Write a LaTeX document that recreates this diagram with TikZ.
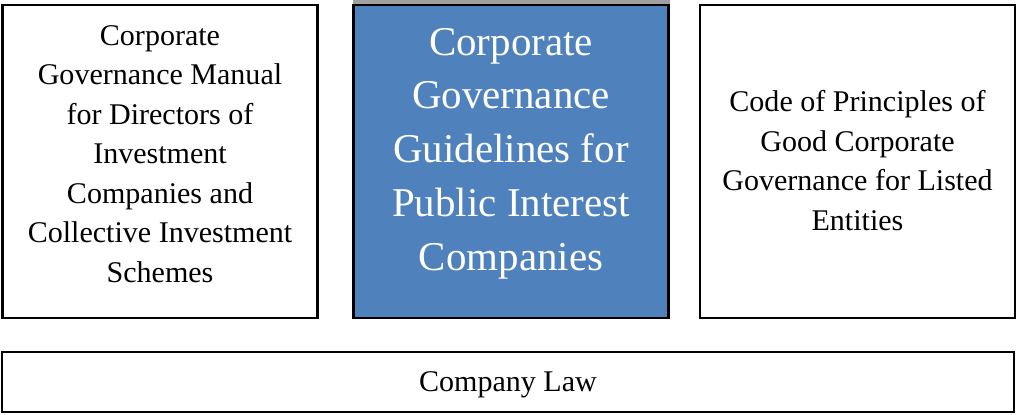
\documentclass[tikz,border=0pt]{standalone}
\usepackage{fontspec}
\setmainfont{Liberation Serif}
\usetikzlibrary{positioning}
\definecolor{codeblue}{HTML}{4F81BD}
\definecolor{codegray}{HTML}{A0A0A0}
\tikzset{codebox/.style={rectangle,draw=black,fill=white,line width=1.2pt,
 minimum width=6.3cm,minimum height=6.26cm,inner sep=0pt},
 mainbox/.style={codebox,fill=codeblue},
 lawbox/.style={codebox,minimum width=20.24cm,minimum height=1.2cm},
 codetext/.style={align=center,inner sep=0pt,font=\fontsize{17.1}{22.5}\selectfont},
 maintext/.style={codetext,text=white,font=\fontsize{23.3}{30.6}\selectfont}}
\begin{document}
\begin{tikzpicture}[x=.02cm,y=-.02cm]
 \useasboundingbox (0,0) rectangle (1016,414);
 % three codes side by side
 \node[codebox] (manual) at (160,161.5) {};
 \fill[codegray] (353,0) rectangle (670,6);
 \node[mainbox] (guide) at (511,161.5) {};
 \node[codebox] (listed) at (857.5,161.5) {};
 \node[codetext] (manualtext) at (160,154) {Corporate\\Governance Manual\\for Directors of\\Investment\\Companies and\\Collective Investment\\Schemes};
 \node[maintext] (guidetext) at (511,153.5) {Corporate\\Governance\\Guidelines for\\Public Interest\\Companies};
 \node[codetext] (listedtext) at (857.5,160.5) {Code of Principles of\\Good Corporate\\Governance for Listed\\Entities};
 % base layer
 \node[lawbox] (law) at (508,382) {};
 \node[codetext] (lawtext) at (508,384.5) {Company Law};
\end{tikzpicture}
\end{document}
